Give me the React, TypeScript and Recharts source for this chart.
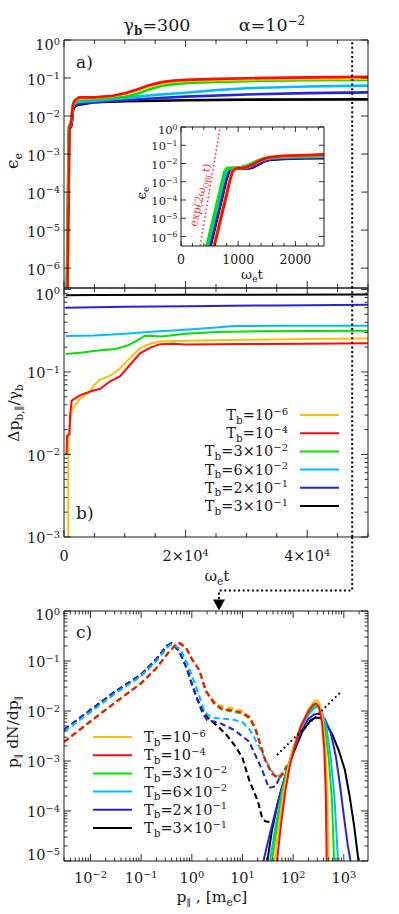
import React from 'react';
import { LineChart, Line, XAxis, YAxis, ReferenceLine, Legend } from 'recharts';

const FONT = '"DejaVu Serif", "Liberation Serif", serif';
const INK = '#1a1a1a';

// ---------- legend / series meta ----------
const tbMantissa = ['', '', '3×', '6×', '2×', '3×'];
const tbExponent = ['−6', '−4', '−2', '−2', '−1', '−1'];
const seriesNames = ['Tb=1e-6', 'Tb=1e-4', 'Tb=3e-2', 'Tb=6e-2', 'Tb=2e-1', 'Tb=3e-1'];
const seriesColors = ['#FFBF00', '#FF0A0A', '#00E400', '#00BCFF', '#2424E0', '#000000'];
const drawOrder = [5, 4, 3, 2, 0, 1];

// ---------- panel a (and inset): eps_e vs omega_e t ----------
const snapshotTime = 47400;
const epsT1e6 = [[300, 1e-8], [570, 3.2e-7], [670, 6.5e-6], [770, 1.3e-4], [840, 1.1e-3], [890, 3.6e-3], [940, 5.2e-3], [1050, 5.6e-3], [1150, 6.2e-3], [1250, 8.2e-3], [1350, 1.25e-2], [1450, 1.7e-2], [1550, 2.1e-2], [1800, 2.5e-2], [2200, 2.8e-2], [2500, 2.9e-2], [5000, 3.0e-2], [8000, 3.3e-2], [10000, 3.8e-2], [12000, 4.7e-2], [14000, 6.0e-2], [16000, 7.2e-2], [18000, 8.0e-2], [21000, 8.5e-2], [25000, 8.8e-2], [30000, 9.1e-2], [40000, 9.4e-2], [50000, 9.6e-2]];
const epsT1e4 = [[300, 1e-8], [585, 3.2e-7], [685, 6.5e-6], [785, 1.3e-4], [855, 1.1e-3], [900, 3.6e-3], [950, 5.2e-3], [1050, 5.6e-3], [1150, 6.3e-3], [1250, 8.5e-3], [1350, 1.3e-2], [1450, 1.8e-2], [1550, 2.2e-2], [1800, 2.6e-2], [2200, 2.9e-2], [2500, 3.1e-2], [5000, 3.1e-2], [8000, 3.4e-2], [10000, 4.0e-2], [12000, 5.0e-2], [14000, 6.5e-2], [16000, 7.8e-2], [18000, 8.6e-2], [21000, 9.1e-2], [25000, 9.5e-2], [30000, 9.9e-2], [40000, 1.04e-1], [50000, 1.08e-1]];
const epsT3e2 = [[300, 1e-8], [450, 3.2e-7], [550, 6.5e-6], [650, 1.3e-4], [720, 1.1e-3], [760, 3.6e-3], [800, 5.4e-3], [850, 5.8e-3], [950, 6.0e-3], [1050, 6.4e-3], [1150, 7.6e-3], [1250, 1.05e-2], [1350, 1.5e-2], [1450, 1.9e-2], [1600, 2.15e-2], [2000, 2.4e-2], [2500, 2.6e-2], [4000, 2.75e-2], [7000, 2.9e-2], [10000, 3.2e-2], [12000, 3.8e-2], [14000, 5.0e-2], [16000, 6.2e-2], [18000, 6.9e-2], [21000, 7.5e-2], [25000, 7.9e-2], [30000, 8.3e-2], [40000, 8.7e-2], [50000, 8.9e-2]];
const epsT6e2 = [[300, 1e-8], [470, 3.2e-7], [570, 6.5e-6], [670, 1.3e-4], [740, 1.1e-3], [790, 3.6e-3], [830, 5.3e-3], [900, 5.6e-3], [1000, 5.8e-3], [1100, 6.0e-3], [1200, 7.0e-3], [1300, 1.0e-2], [1400, 1.5e-2], [1500, 1.85e-2], [1700, 2.1e-2], [2000, 2.25e-2], [2500, 2.4e-2], [5000, 2.5e-2], [10000, 3.0e-2], [15000, 3.6e-2], [20000, 4.1e-2], [25000, 4.8e-2], [30000, 5.4e-2], [40000, 6.0e-2], [50000, 6.3e-2]];
const epsT2e1 = [[300, 1e-8], [510, 3.2e-7], [610, 6.5e-6], [710, 1.3e-4], [780, 1.1e-3], [830, 3.6e-3], [870, 5.0e-3], [950, 5.3e-3], [1050, 5.4e-3], [1150, 5.3e-3], [1250, 6.2e-3], [1350, 9.0e-3], [1450, 1.35e-2], [1550, 1.7e-2], [1800, 1.9e-2], [2200, 2.0e-2], [2500, 2.1e-2], [5000, 2.3e-2], [10000, 2.6e-2], [15000, 2.95e-2], [20000, 3.25e-2], [30000, 3.7e-2], [40000, 4.0e-2], [50000, 4.2e-2]];
const epsT3e1 = [[300, 1e-8], [520, 3.2e-7], [620, 6.5e-6], [720, 1.3e-4], [790, 1.1e-3], [840, 3.6e-3], [880, 5.0e-3], [950, 5.3e-3], [1050, 5.4e-3], [1150, 5.3e-3], [1250, 6.0e-3], [1350, 8.6e-3], [1450, 1.3e-2], [1550, 1.6e-2], [1800, 1.8e-2], [2200, 1.95e-2], [2500, 2.0e-2], [5000, 2.3e-2], [10000, 2.45e-2], [20000, 2.6e-2], [30000, 2.7e-2], [50000, 2.75e-2]];
const epsSeries = [epsT1e6, epsT1e4, epsT3e2, epsT6e2, epsT2e1, epsT3e1];
const growthRef = [[336, 3.2e-7], [685, 1.0]];

// ---------- panel b: delta p / gamma_b ----------
const dpT1e6 = [[700, 5e-4], [720, 0.014], [1000, 0.025], [1300, 0.035], [2600, 0.047], [4300, 0.058], [5000, 0.07], [5900, 0.08], [7600, 0.09], [9200, 0.11], [10900, 0.148], [12500, 0.194], [14200, 0.22], [15800, 0.234], [20000, 0.238], [30000, 0.245], [40000, 0.25], [50000, 0.255]];
const dpT1e4 = [[160, 0.0102], [440, 0.0102], [500, 0.017], [900, 0.0175], [1000, 0.03], [1270, 0.045], [2600, 0.052], [4000, 0.057], [5000, 0.06], [5900, 0.062], [7600, 0.077], [9200, 0.088], [10900, 0.123], [12500, 0.168], [14200, 0.197], [15800, 0.217], [18000, 0.22], [20000, 0.215], [30000, 0.218], [40000, 0.22], [50000, 0.223]];
const dpT3e2 = [[300, 0.165], [3000, 0.172], [6000, 0.183], [8500, 0.19], [10500, 0.21], [12000, 0.24], [13300, 0.275], [14500, 0.272], [16000, 0.268], [20000, 0.29], [25000, 0.305], [30000, 0.31], [50000, 0.316]];
const dpT6e2 = [[300, 0.272], [5000, 0.277], [10000, 0.29], [15000, 0.31], [20000, 0.325], [25000, 0.345], [28000, 0.36], [35000, 0.362], [50000, 0.363]];
const dpT2e1 = [[300, 0.6], [10000, 0.615], [20000, 0.625], [35000, 0.64], [50000, 0.65]];
const dpT3e1 = [[300, 0.85], [5000, 0.855], [20000, 0.86], [50000, 0.865]];
const dpSeries = [dpT1e6, dpT1e4, dpT3e2, dpT6e2, dpT2e1, dpT3e1];

// ---------- panel c: p dN/dp vs p (dashed: background, solid: beam) ----------
const bgT1e6 = [[0.003, 2.4e-3], [0.01, 6.2e-3], [0.03, 1.45e-2], [0.1, 3.6e-2], [0.2, 7.2e-2], [0.35, 0.15], [0.5, 0.22], [0.6, 0.225], [0.8, 0.17], [1.0, 0.11], [1.4, 0.066], [1.9, 0.025], [2.75, 0.0155], [3.8, 0.0125], [6, 0.0115], [9.8, 0.0102], [14, 7.8e-3], [18, 4.6e-3], [28, 1.1e-3], [38, 5.8e-4], [52, 4.6e-4], [62, 5.6e-4], [75, 8e-4]];
const bgT1e4 = [[0.003, 2.4e-3], [0.01, 6.2e-3], [0.03, 1.45e-2], [0.1, 3.6e-2], [0.2, 7.2e-2], [0.35, 0.15], [0.5, 0.22], [0.6, 0.225], [0.8, 0.17], [1.0, 0.11], [1.4, 0.066], [1.9, 0.025], [2.75, 0.0145], [3.8, 0.0113], [6, 0.0103], [9.8, 0.0093], [14, 7.3e-3], [18, 4.4e-3], [28, 1.05e-3], [38, 5.6e-4], [52, 4.5e-4], [62, 5.5e-4], [75, 8e-4]];
const bgT3e2 = [[0.003, 2.4e-3], [0.01, 6.2e-3], [0.03, 1.45e-2], [0.1, 3.6e-2], [0.2, 7.2e-2], [0.35, 0.15], [0.5, 0.22], [0.6, 0.225], [0.8, 0.17], [1.0, 0.11], [1.4, 0.066], [1.9, 0.025], [2.75, 0.014], [3.8, 0.0107], [6, 0.0098], [9.8, 0.0089], [14, 7.0e-3], [18, 4.2e-3], [28, 1.05e-3], [38, 5.6e-4], [52, 4.4e-4], [62, 5.4e-4], [75, 8e-4]];
const bgT6e2 = [[0.003, 3.9e-3], [0.01, 9.5e-3], [0.03, 2.2e-2], [0.1, 5.0e-2], [0.2, 0.1], [0.35, 0.2], [0.42, 0.22], [0.6, 0.17], [0.85, 0.08], [1.1, 0.04], [1.4, 0.02], [1.8, 9.5e-3], [2.5, 7.4e-3], [4, 7.0e-3], [6.3, 6.8e-3], [10, 6.0e-3], [14, 4.2e-3], [20, 2.2e-3], [28, 1.1e-3], [37, 6.5e-4], [46, 4.9e-4], [56, 5.2e-4], [66, 6.6e-4]];
const bgT2e1 = [[0.003, 4.2e-3], [0.01, 1.05e-2], [0.03, 2.4e-2], [0.1, 5.4e-2], [0.2, 0.11], [0.32, 0.2], [0.4, 0.225], [0.56, 0.16], [0.8, 0.07], [1.0, 0.035], [1.26, 0.018], [1.6, 9.5e-3], [2.0, 6.6e-3], [3.5, 5.8e-3], [6.8, 4.2e-3], [13.5, 2.45e-3], [24.5, 6.6e-4], [33, 2.9e-4], [45, 3.1e-4], [55, 4.9e-4]];
const bgT3e1 = [[0.003, 4.2e-3], [0.01, 1.05e-2], [0.03, 2.4e-2], [0.1, 5.4e-2], [0.2, 0.11], [0.32, 0.2], [0.4, 0.225], [0.56, 0.16], [0.8, 0.07], [1.0, 0.035], [1.26, 0.018], [1.6, 0.0105], [2.0, 7.6e-3], [3.2, 5.0e-3], [5.0, 3.2e-3], [7.4, 1.9e-3], [10, 1.15e-3], [13.5, 4.2e-4], [20, 1.6e-4], [24, 7.8e-5], [28, 6.2e-5], [38, 5.9e-5]];
const bgSeries = [bgT1e6, bgT1e4, bgT3e2, bgT6e2, bgT2e1, bgT3e1];

const beamT1e6 = [[43, 1e-5], [52, 5e-5], [65, 2.5e-4], [82, 8e-4], [100, 1.8e-3], [140, 5e-3], [200, 1.05e-2], [250, 1.5e-2], [290, 1.66e-2], [330, 1.45e-2], [380, 7e-3], [430, 2e-3], [470, 3e-4], [500, 8e-6]];
const beamT1e4 = [[48, 1e-5], [57, 5e-5], [70, 2.5e-4], [86, 8e-4], [105, 1.8e-3], [140, 4.8e-3], [200, 1e-2], [250, 1.35e-2], [285, 1.42e-2], [320, 1.25e-2], [370, 6e-3], [410, 1.8e-3], [440, 2.5e-4], [460, 8e-6]];
const beamT3e2 = [[38, 1e-5], [48, 5e-5], [62, 2.5e-4], [80, 8e-4], [100, 1.8e-3], [140, 4.8e-3], [200, 9.5e-3], [260, 1.25e-2], [290, 1.32e-2], [340, 1.15e-2], [420, 5e-3], [500, 1.2e-3], [580, 1.8e-4], [650, 8e-6]];
const beamT6e2 = [[35, 1e-5], [45, 5e-5], [60, 2.5e-4], [80, 8e-4], [100, 1.7e-3], [140, 4.5e-3], [200, 8.5e-3], [260, 1.15e-2], [300, 1.2e-2], [360, 1.05e-2], [450, 5e-3], [550, 1.2e-3], [650, 2e-4], [780, 8e-6]];
const beamT2e1 = [[26, 1e-5], [32, 2.5e-5], [45, 1e-4], [60, 3e-4], [80, 8e-4], [100, 1.5e-3], [140, 3.7e-3], [200, 7e-3], [260, 8.5e-3], [330, 8.9e-3], [420, 7e-3], [550, 3.7e-3], [700, 1.2e-3], [850, 3e-4], [1000, 8e-5], [1200, 2e-5], [1410, 8e-6]];
const beamT3e1 = [[31, 1e-5], [38, 4e-5], [50, 1.5e-4], [70, 5e-4], [100, 1.4e-3], [150, 3.8e-3], [220, 6.5e-3], [280, 7.4e-3], [350, 7.2e-3], [450, 5.6e-3], [600, 3.3e-3], [800, 1.6e-3], [1050, 6.6e-4], [1300, 2e-4], [1600, 5e-5], [2000, 8e-6]];
const beamSeries = [beamT1e6, beamT1e4, beamT3e2, beamT6e2, beamT2e1, beamT3e1];
const powerLawRef = [[48, 1.32e-3], [840, 2.32e-2]];

// ---------- ticks ----------
const timeTicks = [0, 5000, 10000, 15000, 20000, 25000, 30000, 35000, 40000, 45000, 50000];
const timeMajor = [0, 20000, 40000];
const insetTicks = [0, 200, 400, 600, 800, 1000, 1200, 1400, 1600, 1800, 2000, 2200, 2400];
const insetMajor = [0, 1000, 2000];
const epsDecades = [1e-6, 1e-5, 1e-4, 1e-3, 1e-2, 1e-1, 1];
const dpDecades = [1e-3, 1e-2, 1e-1, 1];
const pDecades = [1e-3, 1e-2, 1e-1, 1, 10, 100, 1000];
const fDecades = [1e-5, 1e-4, 1e-3, 1e-2, 1e-1, 1];
const minorSteps = [1, 2, 3, 4, 5, 6, 7, 8, 9];

const withMinors = (decades: number[], lo: number, hi: number) => {
  const out: number[] = [];
  decades.forEach((d) => minorSteps.forEach((m) => {
    const v = d * m;
    if (v >= lo * 0.999 && v <= hi * 1.001) out.push(v);
  }));
  return out;
};
const dpTicks = withMinors(dpDecades, 1e-3, 1.04);
const pTicks = withMinors(pDecades, 0.003, 2500);
const fTicks = withMinors(fDecades, 1e-5, 1);

const toPts = (a: number[][]) => a.map(([x, y]) => ({ x, y }));
const isDecade = (v: number) => Math.abs(Math.log10(v) - Math.round(Math.log10(v))) < 1e-6;
const inList = (list: number[]) => (v: number) => list.indexOf(v) >= 0;
const always = () => true;

const supStr = (e: number) => (e < 0 ? `−${-e}` : `${e}`);
const powLabel = (fs: number) => (v: number) => {
  const e = Math.round(Math.log10(v));
  return (
    <>
      <tspan>10</tspan>
      <tspan dy={-fs * 0.38} fontSize={fs * 0.68}>{supStr(e)}</tspan>
    </>
  );
};
const timeLabel = (fs: number) => (v: number) => {
  if (v === 0) return <tspan>0</tspan>;
  return (
    <>
      <tspan>{`${v / 10000}×10`}</tspan>
      <tspan dy={-fs * 0.38} fontSize={fs * 0.68}>4</tspan>
    </>
  );
};
const plainLabel = (v: number) => <tspan>{String(v)}</tspan>;

type Side = 'left' | 'right' | 'top' | 'bottom';
type TickOpts = {
  major: (v: number) => boolean;
  label?: (v: number) => React.ReactNode;
  fs?: number;
  majorLen: number;
  minorLen: number;
  gap?: number;
  shift?: (v: number) => number;
};
const axisTick = (side: Side, o: TickOpts) => (props: any) => {
  const { x, y, payload } = props;
  const v = payload.value;
  const maj = o.major(v);
  const L = maj ? o.majorLen : o.minorLen;
  let x2 = x;
  let y2 = y;
  if (side === 'left') x2 = x + L;
  else if (side === 'right') x2 = x - L;
  else if (side === 'top') y2 = y + L;
  else y2 = y - L;
  const fs = o.fs || 14;
  const content = maj && o.label ? o.label(v) : null;
  const sh = o.shift ? o.shift(v) : 0;
  return (
    <g>
      <line x1={x} y1={y} x2={x2} y2={y2} stroke={INK} strokeWidth={0.9} />
      {content != null && side === 'left' && (
        <text x={x - (o.gap || 4)} y={y + sh} dy={fs * 0.36} textAnchor="end" fontSize={fs} fontFamily={FONT} fill={INK}>
          {content}
        </text>
      )}
      {content != null && side === 'bottom' && (
        <text x={x + sh} y={y + (o.gap || 16)} dy={fs * 0.36} textAnchor="middle" fontSize={fs} fontFamily={FONT} fill={INK}>
          {content}
        </text>
      )}
    </g>
  );
};

const axisCommon = {
  tickSize: 0,
  tickMargin: 0,
  tickLine: false,
  axisLine: { stroke: INK, strokeWidth: 1 },
  interval: 0 as const,
  allowDataOverflow: true,
};

// ---------- legend ----------
const legendText = (i: number) => (
  <>
    <tspan>T</tspan>
    <tspan dy={3.5} fontSize={10.5}>b</tspan>
    <tspan dy={-3.5}>{`=${tbMantissa[i]}10`}</tspan>
    <tspan dy={-5.5} fontSize={10}>{tbExponent[i]}</tspan>
  </>
);
const LegendB = () => (
  <svg width={170} height={115} style={{ display: 'block' }}>
    {seriesNames.map((n, i) => (
      <g key={n}>
        <text x={98} y={10 + i * 18.2} dy={5} textAnchor="end" fontSize={14.5} fontFamily={FONT} fill={INK}>
          {legendText(i)}
        </text>
        <line x1={110} x2={149} y1={10 + i * 18.2} y2={10 + i * 18.2} stroke={seriesColors[i]} strokeWidth={2} />
      </g>
    ))}
  </svg>
);
const LegendC = () => (
  <svg width={170} height={115} style={{ display: 'block' }}>
    {seriesNames.map((n, i) => (
      <g key={n}>
        <line x1={8} x2={47} y1={10 + i * 18.2} y2={10 + i * 18.2} stroke={seriesColors[i]} strokeWidth={2} />
        <text x={59} y={10 + i * 18.2} dy={5} textAnchor="start" fontSize={14.5} fontFamily={FONT} fill={INK}>
          {legendText(i)}
        </text>
      </g>
    ))}
  </svg>
);

const dotted = { stroke: '#000', strokeWidth: 2, strokeDasharray: '2 2.6' };

export default function App() {
  return (
    <div style={{ position: 'absolute', left: 0, top: 0, width: 399, height: 914, background: '#fff', overflow: 'hidden' }}>
      {/* panel a */}
      <div style={{ position: 'absolute', left: 0, top: 0 }}>
        <LineChart width={399} height={300} margin={{ top: 0, right: 0, bottom: 0, left: 0 }}>
          <XAxis xAxisId="b" dataKey="x" type="number" domain={[0, 50000]} ticks={timeTicks} orientation="bottom" height={12} {...axisCommon}
            tick={axisTick('bottom', { major: inList(timeMajor), majorLen: 7, minorLen: 4 })} />
          <XAxis xAxisId="t" dataKey="x" type="number" domain={[0, 50000]} ticks={timeTicks} orientation="top" height={40} {...axisCommon}
            tick={axisTick('top', { major: inList(timeMajor), majorLen: 7, minorLen: 4 })} />
          <YAxis yAxisId="l" dataKey="y" type="number" scale="log" domain={[3e-7, 1]} ticks={epsDecades} width={64} {...axisCommon}
            tick={axisTick('left', { major: always, label: powLabel(14.5), fs: 14.5, majorLen: 7, minorLen: 4, shift: (v) => (v === 1 ? 5 : 1.5) })} />
          <YAxis yAxisId="r" dataKey="y" type="number" scale="log" domain={[3e-7, 1]} ticks={epsDecades} orientation="right" width={31} {...axisCommon}
            tick={axisTick('right', { major: always, majorLen: 7, minorLen: 4 })} />
          {drawOrder.map((i) => (
            <Line key={seriesNames[i]} name={seriesNames[i]} xAxisId="b" yAxisId="l" data={toPts(epsSeries[i])} dataKey="y"
              stroke={seriesColors[i]} strokeWidth={2.6} dot={false} isAnimationActive={false} />
          ))}
          <ReferenceLine xAxisId="b" yAxisId="l" x={snapshotTime} {...dotted} />
        </LineChart>
      </div>

      {/* inset */}
      <div style={{ position: 'absolute', left: 130, top: 120 }}>
        <LineChart width={200} height={165} margin={{ top: 0, right: 0, bottom: 0, left: 0 }}>
          <XAxis xAxisId="b" dataKey="x" type="number" domain={[0, 2500]} ticks={insetTicks} orientation="bottom" height={39} {...axisCommon}
            tick={axisTick('bottom', { major: inList(insetMajor), label: plainLabel, fs: 12.5, gap: 13.5, majorLen: 5, minorLen: 3 })} />
          <XAxis xAxisId="t" dataKey="x" type="number" domain={[0, 2500]} ticks={insetTicks} orientation="top" height={7} {...axisCommon}
            tick={axisTick('top', { major: inList(insetMajor), majorLen: 5, minorLen: 3 })} />
          <YAxis yAxisId="l" dataKey="y" type="number" scale="log" domain={[3e-7, 1]} ticks={epsDecades} width={51} {...axisCommon}
            tick={axisTick('left', { major: always, label: powLabel(11.5), fs: 11.5, gap: 3.5, majorLen: 5, minorLen: 3, shift: (v) => (v === 1 ? 3 : 1) })} />
          <YAxis yAxisId="r" dataKey="y" type="number" scale="log" domain={[3e-7, 1]} ticks={epsDecades} orientation="right" width={6} {...axisCommon}
            tick={axisTick('right', { major: always, majorLen: 5, minorLen: 3 })} />
          {drawOrder.map((i) => (
            <Line key={seriesNames[i]} name={seriesNames[i]} xAxisId="b" yAxisId="l" data={toPts(epsSeries[i])} dataKey="y"
              stroke={seriesColors[i]} strokeWidth={2.8} dot={false} isAnimationActive={false} />
          ))}
          <Line name="growth" xAxisId="b" yAxisId="l" data={toPts(growthRef)} dataKey="y" stroke="#FF3030" strokeWidth={1.6}
            strokeDasharray="1.5 2.5" dot={false} isAnimationActive={false} />
        </LineChart>
      </div>

      {/* panel b */}
      <div style={{ position: 'absolute', left: 0, top: 260 }}>
        <LineChart width={399} height={330} margin={{ top: 0, right: 0, bottom: 0, left: 0 }}>
          <XAxis xAxisId="b" dataKey="x" type="number" domain={[0, 50000]} ticks={timeTicks} orientation="bottom" height={53} {...axisCommon}
            tick={axisTick('bottom', { major: inList(timeMajor), label: timeLabel(14.5), fs: 14.5, gap: 19, majorLen: 7, minorLen: 4 })} />
          <XAxis xAxisId="t" dataKey="x" type="number" domain={[0, 50000]} ticks={timeTicks} orientation="top" height={28} {...axisCommon}
            tick={axisTick('top', { major: inList(timeMajor), majorLen: 7, minorLen: 4 })} />
          <YAxis yAxisId="l" dataKey="y" type="number" scale="log" domain={[1e-3, 1.04]} ticks={dpTicks} width={64} {...axisCommon}
            tick={axisTick('left', { major: isDecade, label: powLabel(14.5), fs: 14.5, majorLen: 7, minorLen: 3.5, shift: (v) => (v === 1 ? 5 : 1) })} />
          <YAxis yAxisId="r" dataKey="y" type="number" scale="log" domain={[1e-3, 1.04]} ticks={dpTicks} orientation="right" width={31} {...axisCommon}
            tick={axisTick('right', { major: isDecade, majorLen: 7, minorLen: 3.5 })} />
          {drawOrder.map((i) => (
            <Line key={seriesNames[i]} name={seriesNames[i]} xAxisId="b" yAxisId="l" data={toPts(dpSeries[i])} dataKey="y"
              stroke={seriesColors[i]} strokeWidth={2} dot={false} isAnimationActive={false} />
          ))}
          <ReferenceLine xAxisId="b" yAxisId="l" x={snapshotTime} {...dotted} />
          <Legend layout="horizontal" verticalAlign="middle" align="center"
            wrapperStyle={{ position: 'absolute', left: 190, top: 145, width: 170, height: 115 }} content={() => <LegendB />} />
        </LineChart>
      </div>

      {/* panel c */}
      <div style={{ position: 'absolute', left: 0, top: 590 }}>
        <LineChart width={399} height={324} margin={{ top: 0, right: 0, bottom: 0, left: 0 }}>
          <XAxis xAxisId="b" dataKey="x" type="number" scale="log" domain={[0.003, 3000]} ticks={pTicks} orientation="bottom" height={53} {...axisCommon}
            tick={axisTick('bottom', { major: isDecade, label: powLabel(14.5), fs: 14.5, gap: 17, majorLen: 7, minorLen: 3.5 })} />
          <XAxis xAxisId="t" dataKey="x" type="number" scale="log" domain={[0.003, 3000]} ticks={pTicks} orientation="top" height={21} {...axisCommon}
            tick={axisTick('top', { major: isDecade, majorLen: 7, minorLen: 3.5 })} />
          <YAxis yAxisId="l" dataKey="y" type="number" scale="log" domain={[1e-5, 1]} ticks={fTicks} width={64} {...axisCommon}
            tick={axisTick('left', { major: isDecade, label: powLabel(14.5), fs: 14.5, majorLen: 7, minorLen: 3.5, shift: (v) => (v < 2e-5 ? -6 : v === 1 ? 4 : 1) })} />
          <YAxis yAxisId="r" dataKey="y" type="number" scale="log" domain={[1e-5, 1]} ticks={fTicks} orientation="right" width={31} {...axisCommon}
            tick={axisTick('right', { major: isDecade, majorLen: 7, minorLen: 3.5 })} />
          {drawOrder.map((i) => (
            <Line key={'bg' + seriesNames[i]} name={'bg ' + seriesNames[i]} legendType="none" xAxisId="b" yAxisId="l" data={toPts(bgSeries[i])} dataKey="y"
              stroke={seriesColors[i]} strokeWidth={2.1} strokeDasharray="6 3.5" dot={false} isAnimationActive={false} />
          ))}
          {drawOrder.map((i) => (
            <Line key={'beam' + seriesNames[i]} name={seriesNames[i]} xAxisId="b" yAxisId="l" data={toPts(beamSeries[i])} dataKey="y"
              stroke={seriesColors[i]} strokeWidth={2} dot={false} isAnimationActive={false} />
          ))}
          <Line name="p^1" legendType="none" xAxisId="b" yAxisId="l" data={toPts(powerLawRef)} dataKey="y" stroke="#000"
            strokeWidth={2} strokeDasharray="1.8 3" dot={false} isAnimationActive={false} />
          <Legend layout="horizontal" verticalAlign="middle" align="center"
            wrapperStyle={{ position: 'absolute', left: 85, top: 137, width: 170, height: 115 }} content={() => <LegendC />} />
        </LineChart>
      </div>

      {/* annotations */}
      <svg width={399} height={914} style={{ position: 'absolute', left: 0, top: 0, pointerEvents: 'none' }}>
        <g fontFamily={FONT} fill={INK}>
          <text x={157} y={25} dy={6} textAnchor="middle" fontSize={17.5}>
            <tspan>γ</tspan><tspan dy={4} fontSize={12} fontWeight="bold">b</tspan><tspan dy={-4}>=300</tspan>
          </text>
          <text x={272} y={25} dy={6} textAnchor="middle" fontSize={17.5}>
            <tspan>α=10</tspan><tspan dy={-6.5} fontSize={12}>−2</tspan>
          </text>
          <text x={76} y={62} dy={6} fontSize={17}>a)</text>
          <text x={76} y={513} dy={6} fontSize={17}>b)</text>
          <text x={76} y={632} dy={6} fontSize={17}>c)</text>

          <text transform="translate(13,161) rotate(-90)" textAnchor="middle" dy={5} fontSize={17}>
            <tspan>ϵ</tspan><tspan dy={4} fontSize={11}>e</tspan>
          </text>
          <text transform="translate(14,413) rotate(-90)" textAnchor="middle" dy={5} fontSize={15.5}>
            <tspan>Δp</tspan><tspan dy={4} fontSize={10.5}>b,∥</tspan><tspan dy={-4}>/γ</tspan><tspan dy={4} fontSize={10.5}>b</tspan>
          </text>
          <text transform="translate(13,732) rotate(-90)" textAnchor="middle" dy={5} fontSize={15.5}>
            <tspan>p</tspan><tspan dy={4} fontSize={9.5}>∥</tspan><tspan dy={-4}> dN/dp</tspan><tspan dy={4} fontSize={9.5}>∥</tspan>
          </text>
          <text x={217} y={576} dy={5} textAnchor="middle" fontSize={15.5}>
            <tspan>ω</tspan><tspan dy={3.5} fontSize={10.5}>e</tspan><tspan dy={-3.5}>t</tspan>
          </text>
          <text x={212} y={897} dy={5} textAnchor="middle" fontSize={15.5}>
            <tspan>p</tspan><tspan dy={4} fontSize={9.5}>∥</tspan><tspan dy={-4}> , [m</tspan><tspan dy={4} fontSize={10.5}>e</tspan><tspan dy={-4}>c]</tspan>
          </text>

          <text transform="translate(142,193) rotate(-90)" textAnchor="middle" dy={4} fontSize={13.5}>
            <tspan>ϵ</tspan><tspan dy={3} fontSize={9}>e</tspan>
          </text>
          <text x={252} y={274} dy={4.5} textAnchor="middle" fontSize={13.5}>
            <tspan>ω</tspan><tspan dy={3} fontSize={9}>e</tspan><tspan dy={-3}>t</tspan>
          </text>
          <text transform="translate(200,195) rotate(-77)" textAnchor="middle" dy={4} fontSize={11} fill="#FF3030">
            <tspan>exp(2ω</tspan><tspan dy={2.5} fontSize={7}>OBL</tspan><tspan dy={-2.5}>t)</tspan>
          </text>
        </g>
        <path d="M352.2 537 V590.5 H219 V600" fill="none" {...dotted} />
        <polygon points="213,599.5 225,599.5 219,610.5" fill="#000" />
      </svg>
    </div>
  );
}
